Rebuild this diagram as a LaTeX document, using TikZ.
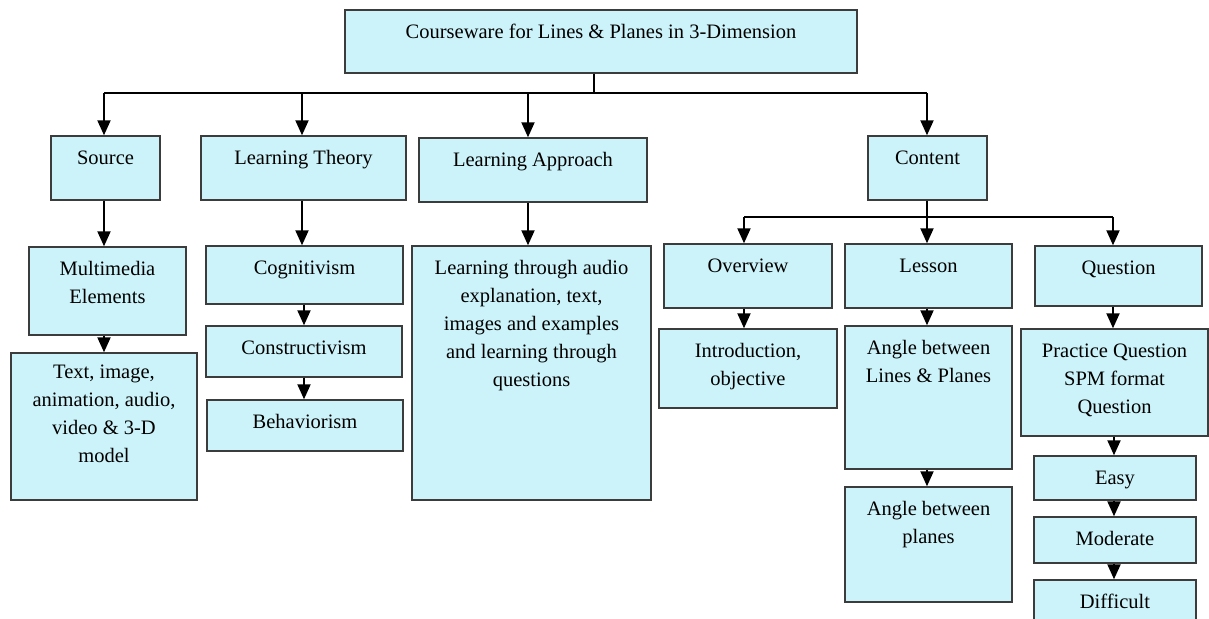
\documentclass[tikz,border=0pt]{standalone}
\usepackage{fontspec}
\setmainfont{Liberation Serif}
\usetikzlibrary{arrows.meta,fit,calc}
\definecolor{boxfill}{RGB}{204,243,249}
\definecolor{boxline}{RGB}{60,60,60}
\tikzset{
  box/.style={draw=boxline, fill=boxfill, line width=0.7pt, inner sep=0pt},
  txt/.style={anchor=north, align=center, inner sep=0pt, font=\fontsize{10.25}{14}\selectfont},
  conn/.style={draw=black, line width=1pt},
  arr/.style={conn, -{Triangle[width=6.5pt,length=7.5pt]}}
}
\newcommand\mkbox[7][29]{%
  \node[box, fit={(#3,#4) (#5,#6)}] (#2) {};
  \node[txt] (#2-t) at ($(#2.north)+(0,#1-19.6)$) {\strut#7};}
\begin{document}
\begin{tikzpicture}[x=0.5pt,y=-0.5pt]
\useasboundingbox (0,0) rectangle (1209,619);
\clip (0,0) rectangle (1209,619);
% boxes
\mkbox{top}{345}{10}{857}{73}{Courseware for Lines \& Planes in 3-Dimension}
\mkbox{src}{51}{136}{160}{200}{Source}
\mkbox{lt}{201}{136}{406}{200}{Learning Theory}
\mkbox{la}{419}{138}{647}{202}{Learning Approach}
\mkbox{con}{868}{136}{987}{200}{Content}
\mkbox{mm}{29}{247}{186}{335}{Multimedia\\Elements}
\mkbox[26]{tia}{11}{353}{197}{500}{Text, image,\\animation, audio,\\video \& 3-D\\model}
\mkbox{cog}{206}{246}{403}{304}{Cognitivism}
\mkbox{cons}{206}{326}{402}{377}{Constructivism}
\mkbox{beh}{207}{400}{403}{451}{Behaviorism}
\mkbox{ltq}{412}{246}{651}{500}{Learning through audio\\explanation, text,\\images and examples\\and learning through\\questions}
\mkbox{ov}{664}{244}{832}{308}{Overview}
\mkbox{intro}{659}{329}{837}{408}{Introduction,\\objective}
\mkbox{les}{845}{244}{1012}{308}{Lesson}
\mkbox{alp}{845}{326}{1012}{469}{Angle between\\Lines \& Planes}
\mkbox{ap}{845}{487}{1012}{602}{Angle between\\planes}
\mkbox{qu}{1035}{246}{1202}{306}{Question}
\mkbox{pq}{1021}{329}{1208}{436}{Practice Question\\SPM format\\Question}
\mkbox{easy}{1034}{456}{1196}{500}{Easy}
\mkbox{mod}{1034}{517}{1196}{563}{Moderate}
\mkbox{dif}{1034}{580}{1196}{640}{Difficult}
% junction coordinates
\coordinate (j) at (594,93);
\coordinate (jsrc) at (104,93);
\coordinate (jlt) at (302,93);
\coordinate (jla) at (528,93);
\coordinate (jcon) at (927,93);
\coordinate (k) at (927,217);
\coordinate (kov) at (744,217);
\coordinate (kqu) at (1113,217);
\coordinate (xq) at (1114,0);
% top-level connectors
\draw[conn] (top.south -| j) -- (j);
\draw[conn] (jsrc) -- (jcon);
\draw[arr] (jsrc) -- (jsrc |- src.north);
\draw[arr] (jlt) -- (jlt |- lt.north);
\draw[arr] (jla) -- (jla |- la.north);
\draw[arr] (jcon) -- (jcon |- con.north);
% left columns
\draw[arr] (jsrc |- src.south) -- (jsrc |- mm.north);
\draw[arr] (jsrc |- mm.south) -- (jsrc |- tia.north);
\draw[arr] (jlt |- lt.south) -- (jlt |- cog.north);
\draw[arr] ([xshift=1pt]jlt |- cog.south) -- ([xshift=1pt]jlt |- cons.north);
\draw[arr] ([xshift=1pt]jlt |- cons.south) -- ([xshift=1pt]jlt |- beh.north);
\draw[arr] (jla |- la.south) -- (jla |- ltq.north);
% content branch
\draw[arr] (k |- con.south) -- (k |- les.north);
\draw[conn] (kov) -- (kqu);
\draw[arr] (kov) -- (kov |- ov.north);
\draw[arr] (kqu) -- (kqu |- qu.north);
\draw[arr] (kov |- ov.south) -- (kov |- intro.north);
\draw[arr] (k |- les.south) -- (k |- alp.north);
\draw[arr] (k |- alp.south) -- (k |- ap.north);
\draw[arr] (kqu |- qu.south) -- (kqu |- pq.north);
\draw[arr] (xq |- pq.south) -- (xq |- easy.north);
\draw[arr] (xq |- easy.south) -- (xq |- mod.north);
\draw[arr] (xq |- mod.south) -- (xq |- dif.north);
\end{tikzpicture}
\end{document}
